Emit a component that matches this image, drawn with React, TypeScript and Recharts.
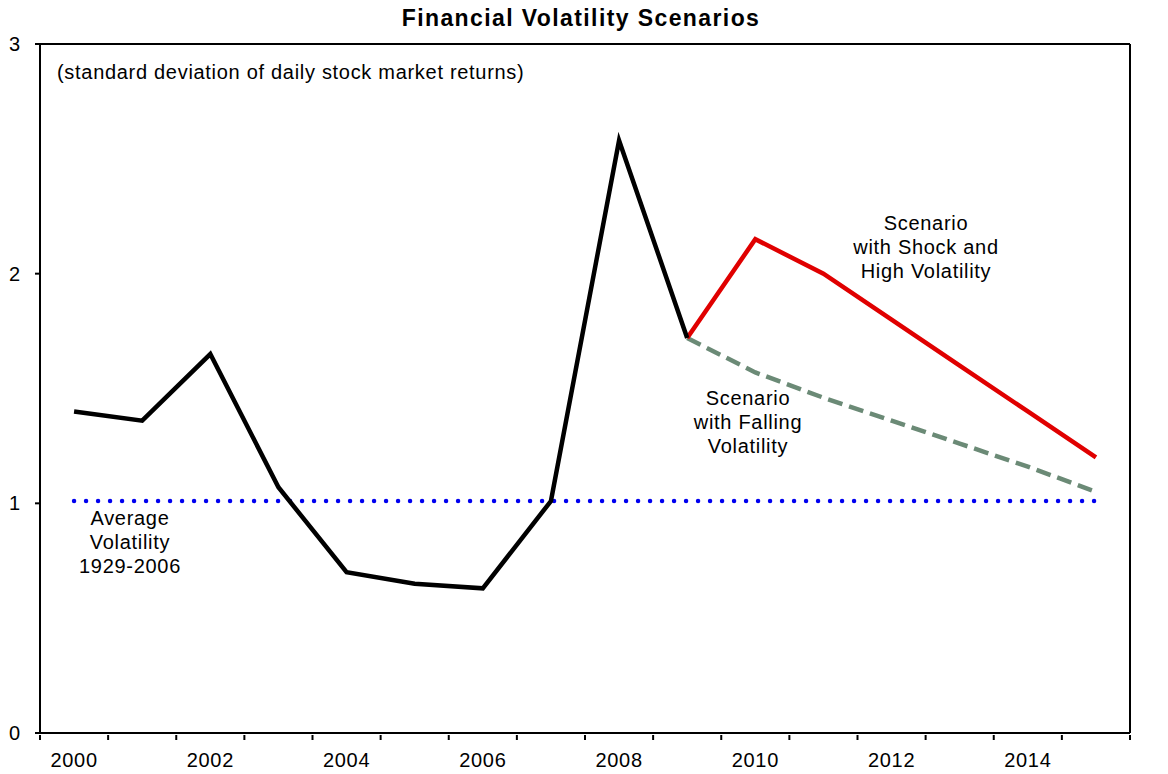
import React from 'react';
import { LineChart, Line, XAxis, YAxis, ReferenceLine } from 'recharts';

// years on the category axis
const years = [2000, 2001, 2002, 2003, 2004, 2005, 2006, 2007, 2008, 2009, 2010, 2011, 2012, 2013, 2014, 2015];
const xTickLabels = ['2000', '2002', '2004', '2006', '2008', '2010', '2012', '2014'];
const yTicks = [0, 1, 2, 3];

// actual volatility 2000-2009
const history = [1.40, 1.36, 1.65, 1.07, 0.70, 0.65, 0.63, 1.01, 2.58, 1.72];
// scenarios start in 2009
const scenarioStart = 2009;
const shockScenario = [1.72, 2.15, 2.0, 1.8, 1.6, 1.4, 1.2];
const fallingScenario = [1.72, 1.57, 1.46, 1.36, 1.26, 1.16, 1.05];
const averageVolatility = 1.01;

const rows = years.map((year, i) => {
  const j = year - scenarioStart;
  return {
    year,
    history: i < history.length ? history[i] : null,
    shock: j >= 0 ? shockScenario[j] : null,
    falling: j >= 0 ? fallingScenario[j] : null,
  };
});

const boundaryTicks = [...years.map((y) => y - 0.5), years[years.length - 1] + 0.5];
const labelTicks = xTickLabels.map(Number);
const xTicks = [...boundaryTicks, ...labelTicks].sort((a, b) => a - b);

const FONT = '"Liberation Sans", Arial, sans-serif';

const XTick = (props: any) => {
  const { x, y, payload } = props;
  const v = payload.value;
  if (v % 1 !== 0) {
    return <line x1={x} x2={x} y1={y} y2={y + 5} stroke="#000" strokeWidth={2} />;
  }
  if (!labelTicks.includes(v)) return null;
  return (
    <text x={x} y={y + 32} textAnchor="middle" fontSize={20} letterSpacing={0.7} fontFamily={FONT} fill="#000">
      {String(v)}
    </text>
  );
};

const Note = ({ x, y, lines, anchor = 'middle' }: { x: number; y: number; lines: string[]; anchor?: string }) => (
  <text x={x} y={y} textAnchor={anchor as any} fontSize={20} letterSpacing={0.7} fontFamily={FONT} fill="#000">
    {lines.map((l, i) => (
      <tspan key={i} x={x} dy={i === 0 ? 0 : 24}>
        {l}
      </tspan>
    ))}
  </text>
);

export default function App() {
  return (
    <div style={{ position: 'absolute', left: 0, top: 0, width: 1168, height: 774, background: '#fff' }}>
      <LineChart width={1168} height={774} data={rows} margin={{ top: 44, right: 0, bottom: 0, left: 0 }}>
        <XAxis
          dataKey="year"
          type="number"
          domain={[1999.5, 2015.5]}
          ticks={xTicks}
          interval={0}
          height={41}
          tickSize={0}
          tickLine={false}
          tick={<XTick />}
          axisLine={{ stroke: '#000', strokeWidth: 2 }}
        />
        <YAxis
          yAxisId="left"
          domain={[0, 3]}
          ticks={yTicks}
          width={40}
          tickSize={5}
          tickMargin={15}
          axisLine={{ stroke: '#000', strokeWidth: 2 }}
          tickLine={{ stroke: '#000', strokeWidth: 2 }}
          tick={{ fontSize: 20, fill: '#000', fontFamily: FONT }}
        />
        <YAxis
          yAxisId="right"
          orientation="right"
          domain={[0, 3]}
          ticks={yTicks}
          width={38}
          tickSize={5}
          tickMargin={12}
          axisLine={{ stroke: '#000', strokeWidth: 2 }}
          tickLine={{ stroke: '#000', strokeWidth: 2 }}
          tick={{ fontSize: 20, fill: '#000', fontFamily: FONT }}
        />
        <ReferenceLine yAxisId="left" y={3} stroke="#000" strokeWidth={2} />
        <ReferenceLine
          yAxisId="left"
          segment={[
            { x: years[0], y: averageVolatility },
            { x: years[years.length - 1], y: averageVolatility },
          ]}
          stroke="#0000F0"
          strokeWidth={4.5}
          strokeDasharray="0 12"
          strokeLinecap="round"
        />
        <Line
          yAxisId="left"
          type="linear"
          dataKey="falling"
          stroke="#6B8A76"
          strokeWidth={4.5}
          strokeDasharray="15 7"
          dot={false}
          isAnimationActive={false}
        />
        <Line
          yAxisId="left"
          type="linear"
          dataKey="shock"
          stroke="#E00000"
          strokeWidth={4.5}
          dot={false}
          isAnimationActive={false}
        />
        <Line
          yAxisId="left"
          type="linear"
          dataKey="history"
          stroke="#000"
          strokeWidth={4.5}
          dot={false}
          isAnimationActive={false}
        />
      </LineChart>
      <svg width={1168} height={774} style={{ position: 'absolute', left: 0, top: 0, pointerEvents: 'none' }}>
        <text x={581} y={26} textAnchor="middle" fontSize={23} fontWeight="bold" letterSpacing={1.4} fontFamily={FONT} fill="#000">
          Financial Volatility Scenarios
        </text>
        <Note x={57} y={79} anchor="start" lines={['(standard deviation of daily stock market returns)']} />
        <Note x={130} y={525} lines={['Average', 'Volatility', '1929-2006']} />
        <Note x={926} y={230} lines={['Scenario', 'with Shock and', 'High Volatility']} />
        <Note x={748} y={405} lines={['Scenario', 'with Falling', 'Volatility']} />
      </svg>
    </div>
  );
}
